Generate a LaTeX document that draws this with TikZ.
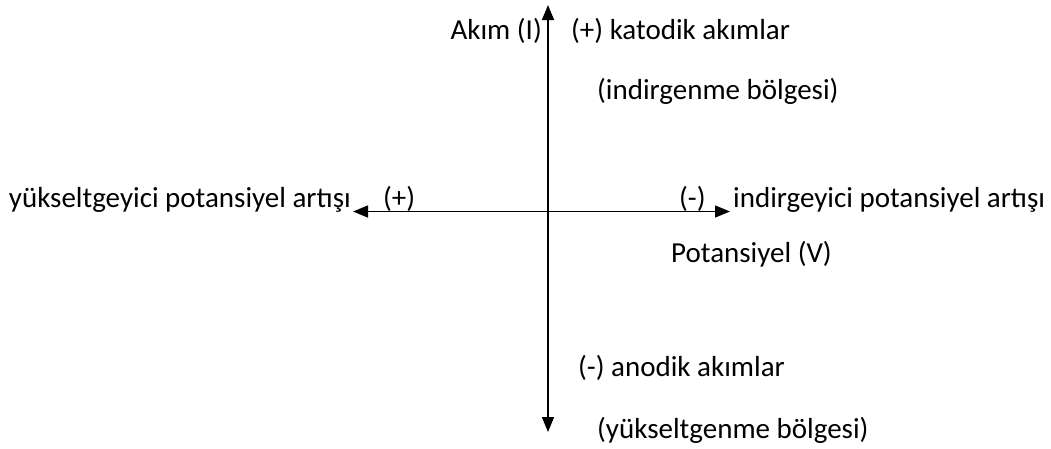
\documentclass[tikz,border=0pt]{standalone}
\usepackage{fontspec}
\setmainfont{Carlito}
\usetikzlibrary{arrows.meta}
\begin{document}
\begin{tikzpicture}[x=1pt,y=-1pt,
  lbl/.style={inner sep=0pt,anchor=base west,font=\fontsize{29}{33}\selectfont},
  lblr/.style={lbl,anchor=base east},
  axis/.style={line width=1.5pt,-{Triangle[length=15pt,width=12pt]}}]
\useasboundingbox (0,0) rectangle (1051,448);
\coordinate (O) at (548,211.5);
\coordinate (top) at (548,5);
\coordinate (bot) at (548,432);
\coordinate (left) at (353,211.5);
\coordinate (right) at (730,211.5);
\draw[axis] (O) -- (top);
\draw[axis] (O) -- (bot);
\draw[axis] (O) -- (left);
\draw[axis] (O) -- (right);
\node[lblr] (akim) at (542,39) {Akım (I)};
\node[lbl] (kat) at (571,39) {(+) katodik akımlar};
\node[lbl] (ind) at (597,99) {(indirgenme bölgesi)};
\node[lblr] (yuk) at (351,207) {yükseltgeyici potansiyel artışı};
\node[lbl] (plus) at (383,207) {(+)};
\node[lbl] (minus) at (679,207) {(-)};
\node[lbl] (indp) at (733,207) {indirgeyici potansiyel artışı};
\node[lbl] (pot) at (671,262) {Potansiyel (V)};
\node[lbl] (ano) at (578,376) {(-) anodik akımlar};
\node[lbl] (yb) at (597,438) {(yükseltgenme bölgesi)};
\end{tikzpicture}
\end{document}
